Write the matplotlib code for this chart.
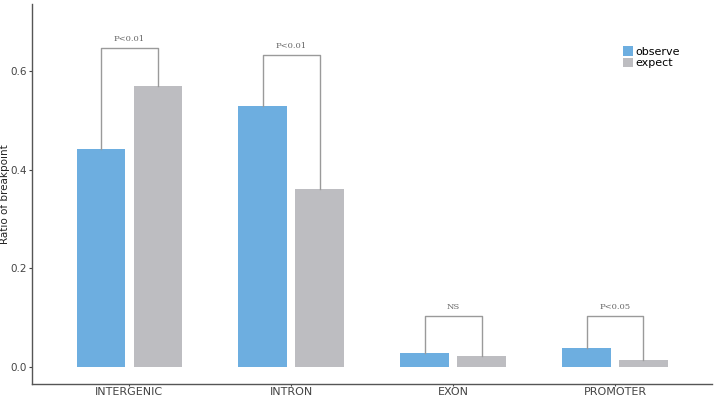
import numpy as np
import matplotlib.pyplot as plt

# data
categories = ["INTERGENIC", "INTRON", "EXON", "PROMOTER"]
observe = [0.442, 0.529, 0.029, 0.039]
expect = [0.570, 0.361, 0.022, 0.014]
bracket_top = [0.647, 0.632, 0.103, 0.103]
sig_labels = ["P<0.01", "P<0.01", "NS", "P<0.05"]

blue = "#6daee0"
grey = "#bdbdc1"
line_col = "#9a9a9a"

fig = plt.figure(figsize=(7.15, 3.98), dpi=100)
ax = fig.add_axes([0.045, 0.035, 0.951, 0.955])

x = np.arange(len(categories))
w = 0.30
off = 0.176
ax.bar(x - off, observe, w, color=blue, label="observe")
ax.bar(x + off, expect, w, color=grey, label="expect")

# significance brackets
for i in range(len(categories)):
    xl, xr = x[i] - off, x[i] + off
    top = bracket_top[i]
    ax.plot([xl, xl, xr, xr], [observe[i], top, top, expect[i]],
            color=line_col, lw=1.0)
    ax.text(x[i], top + 0.01, sig_labels[i], ha="center", va="bottom",
            fontsize=6, family="DejaVu Serif", color="#666666")

ax.set_xlim(-0.6, 3.6)
ax.set_ylim(-0.0345, 0.736)
ax.set_xticks(x)
ax.set_xticklabels(categories)
ax.set_yticks([0.0, 0.2, 0.4, 0.6])
ax.set_yticklabels(["0.0", "0.2", "0.4", "0.6"])
ax.set_ylabel("Ratio of breakpoint", fontsize=7.5, color="#222222")
ax.yaxis.set_label_coords(-0.032, 0.5)
ax.tick_params(axis="both", labelsize=8, colors="#444444", width=0.8)
ax.tick_params(axis="y", pad=1.5, length=2.5, labelsize=7.5)
ax.tick_params(axis="x", pad=0.5, length=1.5)

for s in ["top", "right"]:
    ax.spines[s].set_visible(False)
for s in ["left", "bottom"]:
    ax.spines[s].set_color("#555555")
    ax.spines[s].set_linewidth(1.0)

ax.legend(loc="upper left", bbox_to_anchor=(0.862, 0.9), frameon=False,
          fontsize=8, handlelength=0.9, handleheight=0.9, handletextpad=0.2,
          labelspacing=0.1, borderaxespad=0)

fig.savefig("out.png", dpi=100)
